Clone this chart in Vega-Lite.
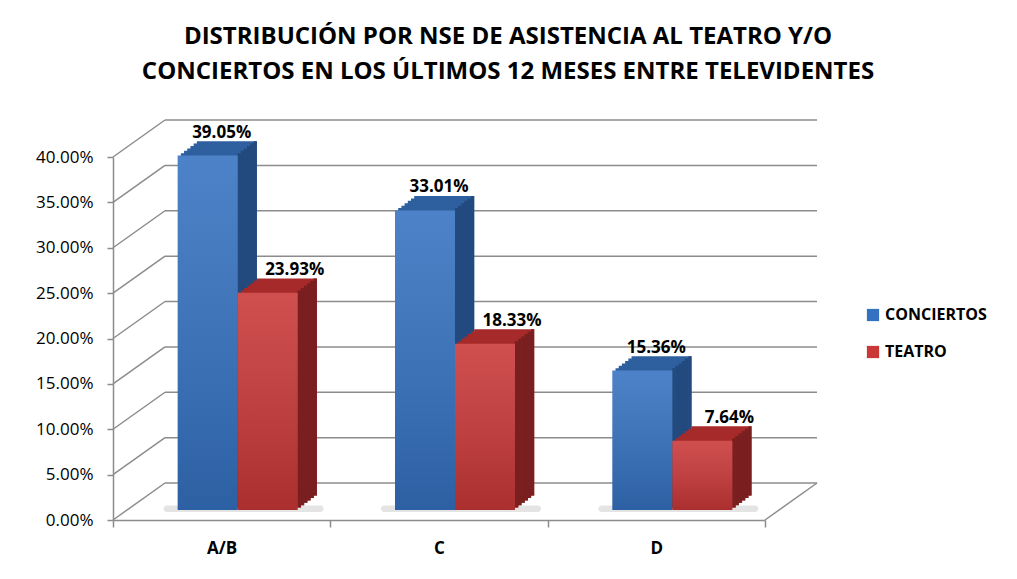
{
  "$schema": "https://vega.github.io/schema/vega-lite/v6.json",
  "width": 652,
  "height": 363,
  "autosize": {"type": "none"},
  "padding": {"left": 113, "top": 157, "right": 252, "bottom": 59},
  "background": "white",
  "title": {
    "text": ["DISTRIBUCIÓN POR NSE DE ASISTENCIA AL TEATRO Y/O", "CONCIERTOS EN LOS ÚLTIMOS 12 MESES ENTRE TELEVIDENTES"],
    "font": "Open Sans",
    "fontSize": 24,
    "fontWeight": "bold",
    "color": "#000000",
    "lineHeight": 35,
    "anchor": "middle",
    "dx": 69,
    "offset": 35
  },
  "datasets": {
    "bars": [
      {"nse": "A/B", "serie": "CONCIERTOS", "pct": 0.3905},
      {"nse": "A/B", "serie": "TEATRO", "pct": 0.2393},
      {"nse": "C", "serie": "CONCIERTOS", "pct": 0.3301},
      {"nse": "C", "serie": "TEATRO", "pct": 0.1833},
      {"nse": "D", "serie": "CONCIERTOS", "pct": 0.1536},
      {"nse": "D", "serie": "TEATRO", "pct": 0.0764}
    ],
    "grid": [
      {"v": 0}, {"v": 0.05}, {"v": 0.1}, {"v": 0.15}, {"v": 0.2},
      {"v": 0.25}, {"v": 0.3}, {"v": 0.35}, {"v": 0.4}
    ]
  },
  "encoding": {
    "y": {
      "field": "pct",
      "type": "quantitative",
      "scale": {"domain": [0, 0.4]},
      "axis": {
        "title": null,
        "format": ".2%",
        "values": [0, 0.05, 0.1, 0.15, 0.2, 0.25, 0.3, 0.35, 0.4],
        "grid": false,
        "tickSize": 6,
        "tickColor": "#8c8c8c",
        "tickWidth": 1.5,
        "domainColor": "#8c8c8c",
        "domainWidth": 1.5,
        "labelFont": "Open Sans",
        "labelFontSize": 17,
        "labelColor": "#000000",
        "labelPadding": 14
      }
    }
  },
  "layer": [
    {
      "data": {"name": "grid"},
      "mark": {"type": "rule", "color": "#8c8c8c", "strokeWidth": 1.5, "yOffset": -37},
      "encoding": {
        "x": {"value": 52},
        "x2": {"value": 704},
        "y": {"field": "v", "type": "quantitative"}
      }
    },
    {
      "data": {"name": "grid"},
      "mark": {"type": "rule", "color": "#8c8c8c", "strokeWidth": 1.5, "y2Offset": -37},
      "encoding": {
        "x": {"value": 0},
        "x2": {"value": 52},
        "y": {"field": "v", "type": "quantitative"},
        "y2": {"field": "v"}
      }
    },
    {
      "data": {"name": "grid"},
      "transform": [{"filter": "datum.v == 0"}],
      "mark": {"type": "rule", "color": "#8c8c8c", "strokeWidth": 1.5, "y2Offset": -37},
      "encoding": {
        "x": {"value": 652},
        "x2": {"value": 704},
        "y": {"field": "v", "type": "quantitative"},
        "y2": {"field": "v"}
      }
    },
    {
      "data": {"name": "bars"},
      "encoding": {
        "x": {
          "field": "nse",
          "type": "nominal",
          "sort": ["A/B", "C", "D"],
          "scale": {"paddingInner": 0, "paddingOuter": 0},
          "axis": {
            "title": null,
            "labelAngle": 0,
            "tickBand": "extent",
            "tickSize": 7,
            "tickColor": "#8c8c8c",
            "tickWidth": 1.5,
            "domainColor": "#8c8c8c",
            "domainWidth": 1.5,
            "labelFont": "Open Sans",
            "labelFontSize": 17,
            "labelFontWeight": "bold",
            "labelColor": "#000000",
            "labelPadding": 13
          }
        }
      },
      "layer": [
        {
          "transform": [{"filter": "datum.serie === 'CONCIERTOS'"}],
          "mark": {"type": "bar", "width": 160, "color": "#c4c4c4", "opacity": 0.45, "cornerRadius": 6, "xOffset": 22, "yOffset": -8},
          "encoding": {"y": {"datum": 0}, "y2": {"datum": 0.016}}
        },
        {
          "transform": [{"filter": "datum.serie === 'CONCIERTOS'"}],
          "layer": [
            {"mark": {"type": "bar", "width": 60, "color": "#2e5f9f", "xOffset": 5.2, "yOffset": -24.4}},
            {"mark": {"type": "bar", "width": 60, "color": "#2e5f9f", "xOffset": 2, "yOffset": -22}},
            {"mark": {"type": "bar", "width": 60, "color": "#2e5f9f", "xOffset": -1.2, "yOffset": -19.6}},
            {"mark": {"type": "bar", "width": 60, "color": "#2e5f9f", "xOffset": -4.4, "yOffset": -17.2}},
            {"mark": {"type": "bar", "width": 60, "color": "#2e5f9f", "xOffset": -7.6, "yOffset": -14.8}},
            {"mark": {"type": "bar", "width": 60, "color": "#2e5f9f", "xOffset": -10.8, "yOffset": -12.4}},
            {"mark": {"type": "bar", "width": 3.6, "color": "#234a7e", "xOffset": 17.6, "yOffset": -12.4}},
            {"mark": {"type": "bar", "width": 3.6, "color": "#234a7e", "xOffset": 20.8, "yOffset": -14.8}},
            {"mark": {"type": "bar", "width": 3.6, "color": "#234a7e", "xOffset": 24, "yOffset": -17.2}},
            {"mark": {"type": "bar", "width": 3.6, "color": "#234a7e", "xOffset": 27.2, "yOffset": -19.6}},
            {"mark": {"type": "bar", "width": 3.6, "color": "#234a7e", "xOffset": 30.4, "yOffset": -22}},
            {"mark": {"type": "bar", "width": 3.2, "color": "#234a7e", "xOffset": 33.6, "yOffset": -24.4}}
          ]
        },
        {
          "transform": [{"filter": "datum.serie === 'CONCIERTOS'"}],
          "mark": {"type": "bar", "width": 60, "xOffset": -14, "yOffset": -10},
          "encoding": {
            "color": {
              "field": "serie",
              "type": "nominal",
              "scale": {"domain": ["CONCIERTOS", "TEATRO"], "range": ["#3471c0", "#c93737"]},
              "legend": {
                "title": null,
                "orient": "none",
                "legendX": 752,
                "legendY": 150,
                "symbolType": "square",
                "symbolSize": 150,
                "symbolStrokeWidth": 0,
                "labelFont": "Open Sans",
                "labelFontSize": 16,
                "labelFontWeight": "bold",
                "labelColor": "#000000",
                "rowPadding": 21,
                "labelOffset": 4
              }
            }
          }
        },
        {
          "transform": [{"filter": "datum.serie === 'TEATRO'"}],
          "layer": [
            {"mark": {"type": "bar", "width": 60, "color": "#a62a2a", "xOffset": 65.2, "yOffset": -24.4}},
            {"mark": {"type": "bar", "width": 60, "color": "#a62a2a", "xOffset": 62, "yOffset": -22}},
            {"mark": {"type": "bar", "width": 60, "color": "#a62a2a", "xOffset": 58.8, "yOffset": -19.6}},
            {"mark": {"type": "bar", "width": 60, "color": "#a62a2a", "xOffset": 55.6, "yOffset": -17.2}},
            {"mark": {"type": "bar", "width": 60, "color": "#a62a2a", "xOffset": 52.4, "yOffset": -14.8}},
            {"mark": {"type": "bar", "width": 60, "color": "#a62a2a", "xOffset": 49.2, "yOffset": -12.4}},
            {"mark": {"type": "bar", "width": 3.6, "color": "#7a1f1f", "xOffset": 77.6, "yOffset": -12.4}},
            {"mark": {"type": "bar", "width": 3.6, "color": "#7a1f1f", "xOffset": 80.8, "yOffset": -14.8}},
            {"mark": {"type": "bar", "width": 3.6, "color": "#7a1f1f", "xOffset": 84, "yOffset": -17.2}},
            {"mark": {"type": "bar", "width": 3.6, "color": "#7a1f1f", "xOffset": 87.2, "yOffset": -19.6}},
            {"mark": {"type": "bar", "width": 3.6, "color": "#7a1f1f", "xOffset": 90.4, "yOffset": -22}},
            {"mark": {"type": "bar", "width": 3.2, "color": "#7a1f1f", "xOffset": 93.6, "yOffset": -24.4}}
          ]
        },
        {
          "transform": [{"filter": "datum.serie === 'TEATRO'"}],
          "mark": {"type": "bar", "width": 60, "xOffset": 46, "yOffset": -10},
          "encoding": {
            "color": {"field": "serie", "type": "nominal"}
          }
        },
        {
          "transform": [{"filter": "datum.serie === 'CONCIERTOS'"}],
          "mark": {
            "type": "bar", "width": 60, "xOffset": -14, "yOffset": -10,
            "fill": {
              "gradient": "linear", "x1": 0, "y1": 0, "x2": 0, "y2": 1,
              "stops": [
                {"offset": 0, "color": "rgba(255,255,255,0.12)"},
                {"offset": 1, "color": "rgba(0,0,0,0.15)"}
              ]
            }
          }
        },
        {
          "transform": [{"filter": "datum.serie === 'TEATRO'"}],
          "mark": {
            "type": "bar", "width": 60, "xOffset": 46, "yOffset": -10,
            "fill": {
              "gradient": "linear", "x1": 0, "y1": 0, "x2": 0, "y2": 1,
              "stops": [
                {"offset": 0, "color": "rgba(255,255,255,0.12)"},
                {"offset": 1, "color": "rgba(0,0,0,0.15)"}
              ]
            }
          }
        },
        {
          "transform": [{"filter": "datum.serie === 'CONCIERTOS'"}],
          "mark": {"type": "text", "font": "Open Sans", "fontSize": 17, "fontWeight": "bold", "color": "#000000", "baseline": "middle", "xOffset": 0, "yOffset": -33},
          "encoding": {"text": {"field": "pct", "type": "quantitative", "format": ".2%"}}
        },
        {
          "transform": [{"filter": "datum.serie === 'TEATRO'"}],
          "mark": {"type": "text", "font": "Open Sans", "fontSize": 17, "fontWeight": "bold", "color": "#000000", "baseline": "middle", "xOffset": 73, "yOffset": -33},
          "encoding": {"text": {"field": "pct", "type": "quantitative", "format": ".2%"}}
        }
      ]
    }
  ],
  "config": {
    "view": {"stroke": null}
  }
}
